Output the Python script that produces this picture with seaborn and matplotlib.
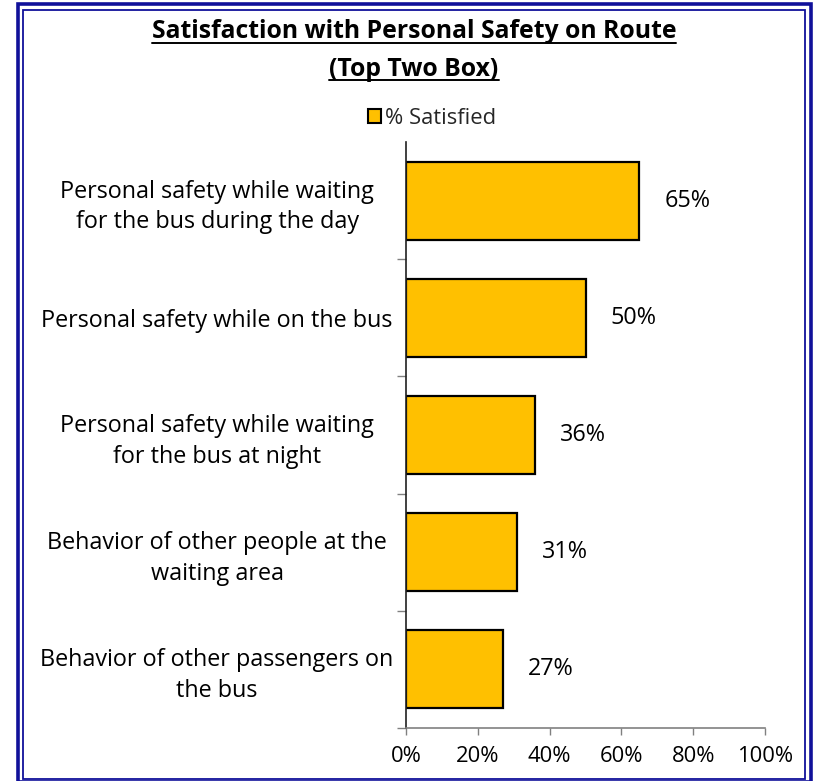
import matplotlib
matplotlib.use("Agg")
import matplotlib.pyplot as plt
import seaborn as sns
import pandas as pd
from matplotlib.patches import Rectangle
from matplotlib.lines import Line2D

# ---- data -------------------------------------------------------------
categories = [
    "Personal safety while waiting\nfor the bus during the day",
    "Personal safety while on the bus",
    "Personal safety while waiting\nfor the bus at night",
    "Behavior of other people at the\nwaiting area",
    "Behavior of other passengers on\nthe bus",
]
satisfied = [65, 50, 36, 31, 27]
series_name = "% Satisfied"
x_ticks = [0, 20, 40, 60, 80, 100]
x_tick_labels = ["0%", "20%", "40%", "60%", "80%", "100%"]
title_lines = ["Satisfaction with Personal Safety on Route", "(Top Two Box)"]

# ---- style ------------------------------------------------------------
sns.set_theme(style="white")
plt.rcParams["font.family"] = ["Open Sans", "DejaVu Sans"]

BAR_COLOR = "#FFC000"
NAVY = "#10109A"
FS = 16.8

W, H = 814, 781
fig = plt.figure(figsize=(W / 100, H / 100), dpi=100)

# plot area in pixel coordinates
left, right, top, bottom = 406, 765, 142, 728
ax = fig.add_axes([left / W, 1 - bottom / H, (right - left) / W, (bottom - top) / H])

df = pd.DataFrame({"item": categories, "pct": satisfied})
sns.barplot(data=df, x="pct", y="item", orient="h", color=BAR_COLOR,
            saturation=1, edgecolor="black", linewidth=1.6, width=0.665, ax=ax)

ax.set_xlim(0, 100)
ax.set_ylim(4.5, -0.5)
ax.set_xlabel("")
ax.set_ylabel("")

# x axis
ax.set_xticks(x_ticks)
ax.set_xticklabels(x_tick_labels, fontsize=15.8, color="black")
ax.tick_params(axis="x", direction="out", length=5, width=1, color="#808080",
               bottom=True, pad=8)

# y axis: labels at bar centres, tick marks at category boundaries
ax.set_yticks(range(len(categories)))
ax.set_yticklabels(categories, fontsize=FS, color="black", ha="center",
                   multialignment="center", linespacing=1.38)
ax.tick_params(axis="y", which="major", length=0, pad=136)
ax.set_yticks([0.5, 1.5, 2.5, 3.5, 4.5], minor=True)
ax.tick_params(axis="y", which="minor", direction="out", length=6.5, width=1,
               color="#808080", left=True)

for side in ("top", "right"):
    ax.spines[side].set_visible(False)
ax.spines["left"].set_color("#202020")
ax.spines["left"].set_linewidth(1.2)
ax.spines["bottom"].set_color("#808080")
ax.spines["bottom"].set_linewidth(1.2)
ax.grid(False)

# value labels
for cont in ax.containers:
    ax.bar_label(cont, labels=[f"{v}%" for v in satisfied], padding=18,
                 fontsize=FS, color="black")

# legend
handle = Rectangle((0, 0), 1, 1, facecolor=BAR_COLOR, edgecolor="black", linewidth=1.5)
fig.legend(handles=[handle], labels=[series_name], loc="center",
           bbox_to_anchor=(432 / W, 1 - 118 / H), frameon=False,
           fontsize=15.8, handlelength=0.6, handleheight=0.6,
           handletextpad=0.2, borderpad=0)

# title with underline
title_y = [32, 69]
title_texts = []
for line, y in zip(title_lines, title_y):
    t = fig.text(414 / W, 1 - y / H, line, ha="center", va="center",
                 fontsize=17.8, fontweight="bold", color="black")
    title_texts.append(t)

fig.canvas.draw()
renderer = fig.canvas.get_renderer()
for t in title_texts:
    bb = t.get_window_extent(renderer)
    yline = bb.y0 + 2
    fig.add_artist(Line2D([bb.x0 / W, bb.x1 / W], [yline / H, yline / H],
                          transform=fig.transFigure, color="black", linewidth=1.4))

# double frame around the chart
fig.add_artist(Rectangle((17.5 / W, 1 - 782 / H), (811 - 17.5) / W, (782 - 4.5) / H,
                         transform=fig.transFigure, fill=False,
                         edgecolor=NAVY, linewidth=2.6))
fig.add_artist(Rectangle((23 / W, 1 - 778.5 / H), (805 - 23) / W, (778.5 - 10) / H,
                         transform=fig.transFigure, fill=False,
                         edgecolor=NAVY, linewidth=1.3))

fig.savefig("out.png", dpi=100, facecolor="white")
